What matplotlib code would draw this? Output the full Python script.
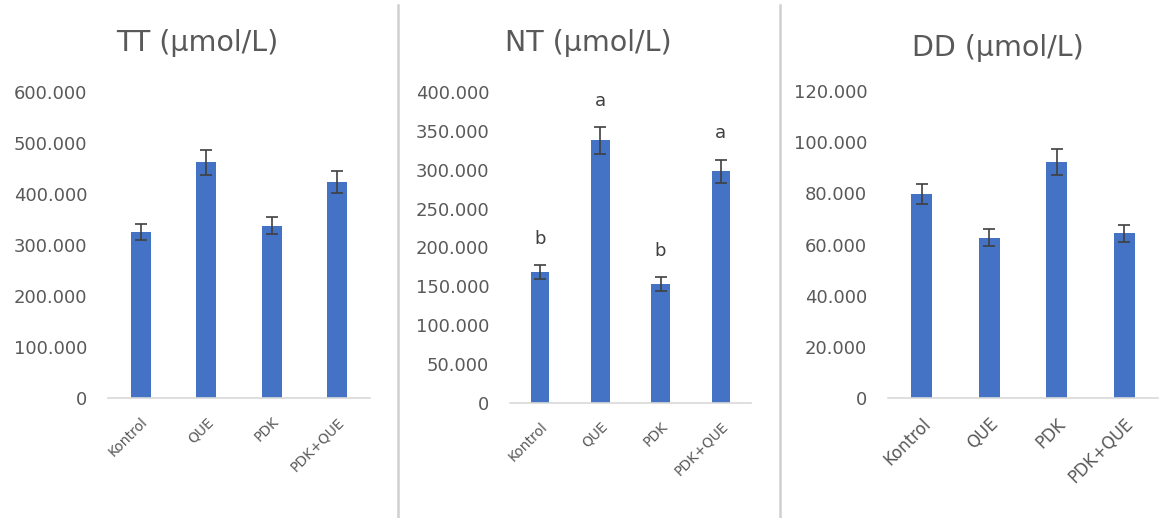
import matplotlib.pyplot as plt
from matplotlib.lines import Line2D

groups = ["Kontrol", "QUE", "PDK", "PDK+QUE"]

tt_mean = [326, 462, 338, 424]
tt_err = [16, 25, 17, 22]

nt_mean = [168, 338, 153, 298]
nt_err = [9, 17, 9, 15]
nt_letters = ["b", "a", "b", "a"]

dd_mean = [79.8, 62.7, 92.2, 64.5]
dd_err = [4.0, 3.4, 5.0, 3.3]

W, H = 1165, 518
BAR = "#4472C4"
TXT = "#595959"

fig = plt.figure(figsize=(W / 100, H / 100), dpi=100)


def px_axes(x0, x1, ytop, ybot):
    return fig.add_axes([x0 / W, 1 - ybot / H, (x1 - x0) / W, (ybot - ytop) / H])


def bar_panel(ax, means, errs, ymax, step, label_size):
    x = range(len(groups))
    ax.bar(x, means, width=0.31, color=BAR, zorder=2)
    ax.errorbar(x, means, yerr=errs, fmt="none", ecolor="#404040",
                elinewidth=1.2, capsize=4, capthick=1.2, zorder=3)
    ax.set_xlim(-0.5, 3.5)
    ax.set_ylim(0, ymax)
    ticks = [i * step for i in range(int(round(ymax / step)) + 1)]
    ax.set_yticks(ticks)
    ax.set_yticklabels(["0" if t == 0 else f"{t:.3f}" for t in ticks])
    ax.set_xticks(list(x))
    ax.set_xticklabels(groups, rotation=45, ha="right", va="top",
                       rotation_mode="anchor", fontsize=label_size, color=TXT)
    ax.tick_params(axis="y", length=0, pad=15, labelsize=13, labelcolor=TXT)
    ax.tick_params(axis="x", length=0, pad=12)
    for s in ["top", "right", "left"]:
        ax.spines[s].set_visible(False)
    ax.spines["bottom"].set_color("#d9d9d9")
    ax.spines["bottom"].set_linewidth(1.2)


ax1 = px_axes(108, 370, 92, 398)
bar_panel(ax1, tt_mean, tt_err, 600, 100, 10)

ax2 = px_axes(510, 751, 92.3, 402.7)
bar_panel(ax2, nt_mean, nt_err, 400, 50, 10)
for i, lab in enumerate(nt_letters):
    ax2.annotate(lab, (i, nt_mean[i] + nt_err[i]), xytext=(0, 19),
                 textcoords="offset points", ha="center", va="center",
                 fontsize=13, color="#404040")

ax3 = px_axes(888, 1158, 91, 398.3)
bar_panel(ax3, dd_mean, dd_err, 120, 20, 12)

# panel titles
for cx, cy, title in [(197, 43, "TT (µmol/L)"), (588, 43, "NT (µmol/L)"),
                      (998, 48, "DD (µmol/L)")]:
    fig.text(cx / W, 1 - cy / H, title, ha="center", va="center",
             fontsize=20.5, color=TXT)

# vertical dividers between panels
for xd in [398, 780]:
    fig.add_artist(Line2D([xd / W, xd / W], [0, 1 - 5 / H],
                          color="#d0d0d0", linewidth=1.8))

fig.savefig("out.png", dpi=100)
